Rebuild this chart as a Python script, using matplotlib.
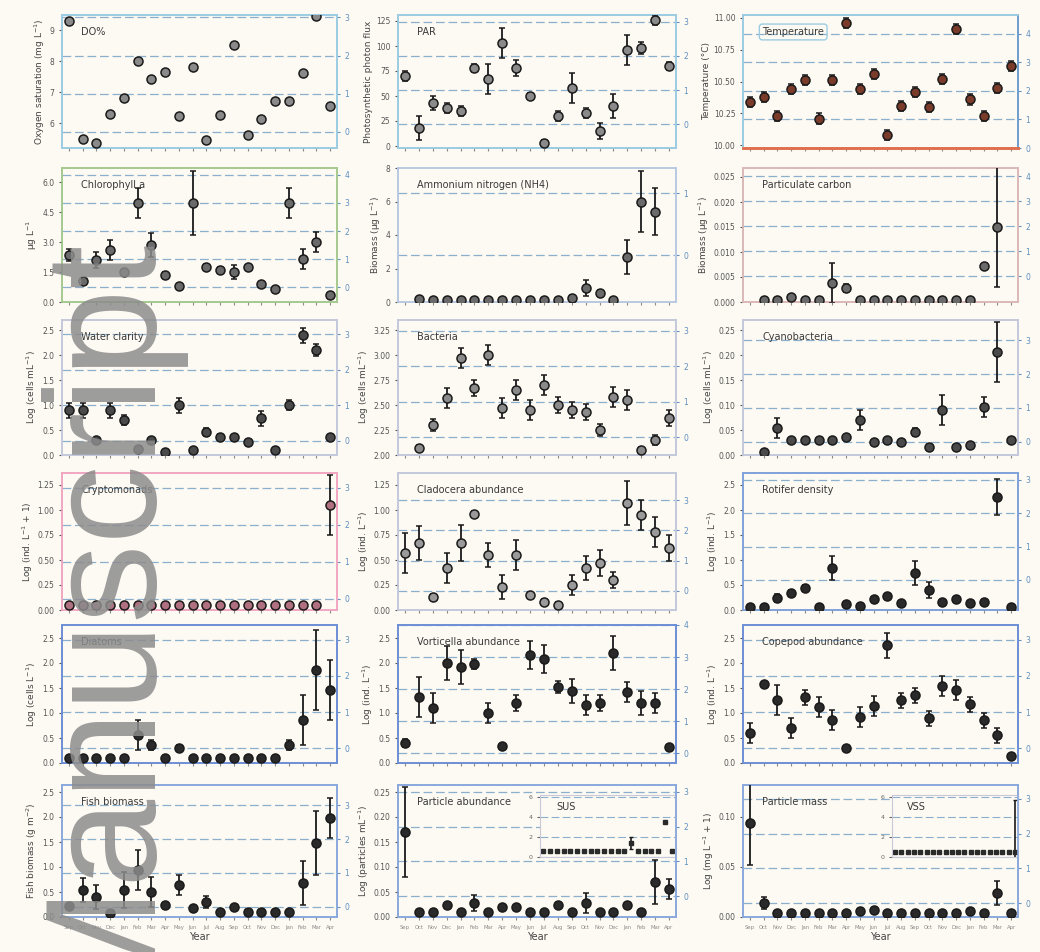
import numpy as np
import matplotlib
matplotlib.use('Agg')
import matplotlib.pyplot as plt

nan = np.nan
W, H = 1040, 952

# sampling occasions (x axis)
months = ['Sep', 'Oct', 'Nov', 'Dec', 'Jan', 'Feb', 'Mar', 'Apr', 'May', 'Jun',
          'Jul', 'Aug', 'Sep', 'Oct', 'Nov', 'Dec', 'Jan', 'Feb', 'Mar', 'Apr']
x = np.arange(20)

# --- row 1
do_sat = [9.29, 5.48, 5.35, 6.29, 6.81, 8.0, 7.42, 7.65, 6.23, 7.81,
          5.45, 6.26, 8.52, 5.61, 6.13, 6.71, 6.71, 7.61, 9.48, 6.55]
do_err = [0.08] * 20
par = [70, 18, 43, 38, 35, 78, 67, 103, 78, 50, 3, 30, 58, 33, 15, 40, 96, 98, 126, 80]
par_err = [5, 12, 7, 5, 5, 4, 15, 15, 8, 3, 3, 5, 15, 5, 8, 12, 15, 6, 5, 4]
temp = [10.34, 10.38, 10.23, 10.44, 10.51, 10.21, 10.51, 10.96, 10.44, 10.56,
        10.08, 10.31, 10.42, 10.30, 10.52, 10.91, 10.36, 10.23, 10.45, 10.62]
temp_err = [0.04] * 20

# --- row 2
chl = [2.35, 1.05, 2.1, 2.6, 1.5, 4.95, 2.85, 1.35, 0.8, 4.95,
       1.75, 1.6, 1.5, 1.75, 0.9, 0.65, 4.95, 2.15, 3.0, 0.35]
chl_err = [0.3, 0.1, 0.4, 0.5, 0.15, 0.75, 0.6, 0.15, 0.1, 1.6,
           0.15, 0.15, 0.35, 0.1, 0.1, 0.1, 0.75, 0.5, 0.5, 0.1]
amm = [nan, 0.18, 0.12, 0.12, 0.12, 0.12, 0.12, 0.12, 0.12, 0.12,
       0.12, 0.12, 0.24, 0.84, 0.54, 0.12, 2.7, 6.0, 5.4, nan]
amm_err = [0, 0.05, 0.05, 0.05, 0.05, 0.05, 0.05, 0.05, 0.05, 0.05,
           0.05, 0.05, 0.15, 0.5, 0.2, 0.05, 1.0, 1.8, 1.4, 0]
poc = [nan, 0.0004, 0.0004, 0.001, 0.0004, 0.0004, 0.0038, 0.0028, 0.0004, 0.0004,
       0.0004, 0.0004, 0.0004, 0.0004, 0.0004, 0.0004, 0.0004, 0.0072, 0.015, nan]
poc_err = [0, 0.0002, 0.0002, 0.0002, 0.0002, 0.0002, 0.004, 0.0008, 0.0002, 0.0002,
           0.0002, 0.0002, 0.0002, 0.0002, 0.0002, 0.0002, 0.0002, 0.0003, 0.012, 0]

# --- row 3
clar = [0.9, 0.9, 0.3, 0.9, 0.7, 0.12, 0.3, 0.06, 1.0, 0.1,
        0.46, 0.36, 0.36, 0.26, 0.74, 0.1, 1.0, 2.4, 2.1, 0.36]
clar_err = [0.15, 0.15, 0.05, 0.15, 0.1, 0.03, 0.05, 0.03, 0.15, 0.03,
            0.08, 0.06, 0.05, 0.05, 0.15, 0.03, 0.1, 0.15, 0.12, 0.05]
bact = [nan, 2.07, 2.3, 2.57, 2.97, 2.67, 3.0, 2.47, 2.65, 2.45,
        2.7, 2.5, 2.45, 2.43, 2.25, 2.58, 2.55, 2.05, 2.15, 2.37]
bact_err = [0, 0.03, 0.06, 0.1, 0.1, 0.08, 0.1, 0.1, 0.1, 0.1,
            0.1, 0.08, 0.08, 0.08, 0.06, 0.1, 0.1, 0.03, 0.05, 0.08]
cyan = [nan, 0.006, 0.054, 0.03, 0.03, 0.03, 0.03, 0.036, 0.07, 0.026,
        0.03, 0.026, 0.046, 0.016, 0.09, 0.016, 0.02, 0.096, 0.206, 0.03]
cyan_err = [0, 0.005, 0.02, 0.005, 0.005, 0.005, 0.005, 0.005, 0.02, 0.005,
            0.005, 0.005, 0.008, 0.005, 0.03, 0.005, 0.005, 0.02, 0.06, 0.005]

# --- row 4
crypt = [0.05] * 19 + [1.05]
crypt_err = [0.0] * 19 + [0.3]
clad = [0.57, 0.67, 0.13, 0.42, 0.67, 0.96, 0.55, 0.23, 0.55, 0.15,
        0.08, 0.05, 0.25, 0.42, 0.47, 0.30, 1.07, 0.95, 0.78, 0.62]
clad_err = [0.2, 0.17, 0.03, 0.15, 0.18, 0.03, 0.12, 0.12, 0.15, 0.03,
            0.03, 0.03, 0.1, 0.12, 0.13, 0.08, 0.22, 0.15, 0.15, 0.13]
rotif = [0.06, 0.06, 0.24, 0.34, 0.44, 0.06, 0.84, 0.12, 0.08, 0.22,
         0.28, 0.14, 0.74, 0.4, 0.16, 0.22, 0.14, 0.16, 2.26, 0.06]
rotif_err = [0.03, 0.03, 0.08, 0.06, 0.06, 0.03, 0.24, 0.03, 0.03, 0.03,
             0.03, 0.03, 0.24, 0.16, 0.03, 0.03, 0.03, 0.03, 0.36, 0.03]

# --- row 5
diat = [0.1, 0.1, 0.1, 0.1, 0.1, 0.56, 0.36, 0.1, 0.3, 0.1,
        0.1, 0.1, 0.1, 0.1, 0.1, 0.1, 0.36, 0.86, 1.86, 1.46]
diat_err = [0.02, 0.02, 0.02, 0.02, 0.02, 0.3, 0.1, 0.02, 0.06, 0.02,
            0.02, 0.02, 0.02, 0.02, 0.02, 0.02, 0.1, 0.5, 0.8, 0.6]
vort = [0.4, 1.32, 1.1, 2.0, 1.92, 1.98, 1.0, 0.34, 1.2, 2.16,
        2.08, 1.52, 1.44, 1.16, 1.2, 2.2, 1.42, 1.2, 1.2, 0.32]
vort_err = [0.08, 0.4, 0.3, 0.34, 0.34, 0.1, 0.2, 0.05, 0.16, 0.28,
            0.28, 0.12, 0.24, 0.2, 0.16, 0.34, 0.2, 0.24, 0.2, 0.05]
cope = [0.6, 1.58, 1.26, 0.7, 1.32, 1.12, 0.86, 0.3, 0.92, 1.14,
        2.36, 1.26, 1.36, 0.9, 1.54, 1.46, 1.18, 0.86, 0.56, 0.14]
cope_err = [0.2, 0.05, 0.3, 0.2, 0.15, 0.2, 0.2, 0.05, 0.2, 0.2,
            0.25, 0.15, 0.15, 0.15, 0.2, 0.2, 0.15, 0.15, 0.15, 0.05]

# --- row 6
fish = [0.22, 0.54, 0.4, 0.08, 0.54, 0.94, 0.5, 0.24, 0.64, 0.18,
        0.3, 0.1, 0.2, 0.1, 0.1, 0.1, 0.1, 0.68, 1.48, 1.98]
fish_err = [0.03, 0.24, 0.24, 0.03, 0.36, 0.4, 0.3, 0.03, 0.2, 0.03,
            0.12, 0.03, 0.03, 0.03, 0.03, 0.03, 0.03, 0.44, 0.64, 0.4]
part = [0.17, 0.01, 0.01, 0.024, 0.01, 0.028, 0.01, 0.02, 0.02, 0.01,
        0.01, 0.024, 0.01, 0.028, 0.01, 0.01, 0.024, 0.01, 0.07, 0.056]
part_err = [0.09, 0.002, 0.002, 0.004, 0.002, 0.016, 0.002, 0.004, 0.004, 0.002,
            0.002, 0.004, 0.002, 0.02, 0.002, 0.002, 0.004, 0.002, 0.044, 0.02]
mass = [0.094, 0.014, 0.004, 0.004, 0.004, 0.004, 0.004, 0.004, 0.006, 0.007,
        0.004, 0.004, 0.004, 0.004, 0.004, 0.004, 0.006, 0.004, 0.024, 0.004]
mass_err = [0.042, 0.006, 0.001, 0.001, 0.001, 0.001, 0.001, 0.001, 0.001, 0.001,
            0.001, 0.001, 0.001, 0.001, 0.001, 0.001, 0.001, 0.001, 0.012, 0.001]

# inset series
sus = [0.6] * 13 + [1.4] + [0.6] * 4 + [3.5, 0.6]
sus_err = [0.1] * 13 + [0.6] + [0.1] * 4 + [0.0, 0.1]
vss = [0.5] * 20
vss_err = [0.05] * 19 + [5.2]

# title, y label, values, errors, ylim, left ticks, spine colour, marker face
panels = [
    ('DO%', 'Oxygen saturation (mg L$^{-1}$)', do_sat, do_err, (5.2, 9.5), [6, 7, 8, 9], '#9ccbe3', '#8a8a8a'),
    ('PAR', 'Photosynthetic photon flux', par, par_err, (-2, 131), [0, 25, 50, 75, 100, 125], '#9ccbe3', '#8a8a8a'),
    ('Temperature', 'Temperature (°C)', temp, temp_err, (9.98, 11.02), [10.0, 10.25, 10.5, 10.75, 11.0], '#9ccbe3', '#7a3b2a'),
    ('Chlorophyll a', 'μg L$^{-1}$', chl, chl_err, (0, 6.7), [0, 1.5, 3, 4.5, 6], '#a5c98e', '#6a6a6a'),
    ('Ammonium nitrogen (NH4)', 'Biomass (μg L$^{-1}$)', amm, amm_err, (0, 8), [0, 2, 4, 6, 8], '#b9c9e2', '#6a6a6a'),
    ('Particulate carbon', 'Biomass (μg L$^{-1}$)', poc, poc_err, (0, 0.0268), [0, 0.005, 0.01, 0.015, 0.02, 0.025], '#dcb8b8', '#6a6a6a'),
    ('Water clarity', 'Log (cells mL$^{-1}$)', clar, clar_err, (0, 2.7), [0, 0.5, 1, 1.5, 2, 2.5], '#c4c8dc', '#4a4a4a'),
    ('Bacteria', 'Log (cells mL$^{-1}$)', bact, bact_err, (2.0, 3.35), [2.0, 2.25, 2.5, 2.75, 3.0, 3.25], '#c4c8dc', '#8a8a8a'),
    ('Cyanobacteria', 'Log (cells mL$^{-1}$)', cyan, cyan_err, (0, 0.27), [0, 0.05, 0.1, 0.15, 0.2, 0.25], '#c4c8dc', '#4a4a4a'),
    ('Cryptomonads', 'Log (ind. L$^{-1}$ + 1)', crypt, crypt_err, (0, 1.37), [0, 0.25, 0.5, 0.75, 1.0, 1.25], '#f0a6c2', '#b07080'),
    ('Cladocera abundance', 'Log (ind. L$^{-1}$)', clad, clad_err, (0, 1.37), [0, 0.25, 0.5, 0.75, 1.0, 1.25], '#c4c8dc', '#9a9a9a'),
    ('Rotifer density', 'Log (ind. L$^{-1}$)', rotif, rotif_err, (0, 2.74), [0, 0.5, 1, 1.5, 2, 2.5], '#7fa2da', '#2a2a2a'),
    ('Diatoms', 'Log (cells L$^{-1}$)', diat, diat_err, (0, 2.76), [0, 0.5, 1, 1.5, 2, 2.5], '#6d8fd6', '#2a2a2a'),
    ('Vorticella abundance', 'Log (ind. L$^{-1}$)', vort, vort_err, (0, 2.76), [0, 0.5, 1, 1.5, 2, 2.5], '#6d8fd6', '#2a2a2a'),
    ('Copepod abundance', 'Log (ind. L$^{-1}$)', cope, cope_err, (0, 2.76), [0, 0.5, 1, 1.5, 2, 2.5], '#6d8fd6', '#2a2a2a'),
    ('Fish biomass', 'Fish biomass (g m$^{-2}$)', fish, fish_err, (0, 2.64), [0, 0.5, 1, 1.5, 2, 2.5], '#8aa8dc', '#2a2a2a'),
    ('Particle abundance', 'Log (particles mL$^{-1}$)', part, part_err, (0, 0.264), [0, 0.05, 0.1, 0.15, 0.2, 0.25], '#8aa8dc', '#2a2a2a'),
    ('Particle mass', 'Log (mg L$^{-1}$ + 1)', mass, mass_err, (0, 0.132), [0, 0.05, 0.1], '#8aa8dc', '#2a2a2a'),
]

# right-hand axis range for each panel (its grid gives the dashed guide lines)
twin_lims = [(-0.42, 3.06), (-0.7, 3.2), (0, 4.65), (-0.52, 4.24), (-0.76, 1.41), (-1.02, 4.33),
             (-0.4, 3.4), (-0.5, 3.3), (-0.4, 3.6), (-0.3, 3.4), (-0.64, 3.9), (-0.9, 3.2),
             (-0.4, 3.4), (-0.3, 4.0), (-0.4, 3.4), (-0.3, 3.6), (-0.6, 3.2), (-0.4, 3.4)]

cols = [(62, 337), (398, 676), (743, 1018)]
rows = [(15, 148), (168, 302), (320, 455), (473, 610), (625, 763), (785, 917)]
bg = '#fdfaf3'


def box(x0, x1, y0, y1):
    return [x0 / W, 1 - y1 / H, (x1 - x0) / W, (y1 - y0) / H]


fig = plt.figure(figsize=(10.4, 9.52), dpi=100, facecolor=bg)
plt.rcParams['font.family'] = ['DejaVu Sans']

for i, (title, ylab, vals, errs, ylim, yt, sc, mfc) in enumerate(panels):
    r, c = divmod(i, 3)
    ax = fig.add_axes(box(*cols[c], *rows[r]))
    tw = ax.twinx()
    ax.set_zorder(tw.get_zorder() + 1)
    ax.patch.set_visible(False)
    lo, hi = twin_lims[i]
    tw.set_ylim(lo, hi)
    tw.set_yticks(range(max(0, int(np.ceil(lo))), int(np.floor(hi)) + 1))
    tw.grid(axis='y', color='#6f9cc4', ls=(0, (7, 3)), lw=0.9, alpha=0.8)
    tw.tick_params(labelsize=5.5, colors='#5f8fbf', length=2)

    ax.errorbar(x, vals, yerr=errs, fmt='o', ms=6.5, mfc=mfc, mec='#1a1a1a', mew=1.1,
                ecolor='#1a1a1a', elinewidth=1.3, capsize=2.5, capthick=1.2, zorder=3)
    ax.set_xlim(-0.5, 19.5)
    ax.set_ylim(*ylim)
    ax.set_yticks(yt)
    ax.tick_params(axis='y', labelsize=5.5, colors='#555555', length=2)
    ax.set_xticks(x)
    if r == 5:
        ax.set_xticklabels(months, fontsize=3.8, color='#555555')
        ax.set_xlabel('Year', fontsize=7, color='#444444', labelpad=2)
    else:
        ax.set_xticklabels([])
    ax.tick_params(axis='x', length=2, colors='#8a8a8a')
    ax.set_ylabel(ylab, fontsize=6.5, color='#444444', labelpad=2)
    for a in (ax, tw):
        for s in a.spines.values():
            s.set_color(sc)
            s.set_linewidth(1.2)
    if r == 0 and c == 2:
        # temperature panel: red baseline
        for a in (ax, tw):
            a.spines['bottom'].set_color('#e07050')
            a.spines['bottom'].set_linewidth(2)
            a.spines['right'].set_color('#6f9cd0')
    tbox = dict(boxstyle='round,pad=0.3', fc='none', ec='#9ccbe3') if c == 2 and r == 0 else None
    ax.text(0.07, 0.91, title, transform=ax.transAxes, fontsize=7, color='#3a3a3a',
            va='top', bbox=tbox)

# insets in the bottom-row particle panels
for (x0, x1), lab, vals, errs in [((540, 675), 'SUS', sus, sus_err),
                                  ((892, 1018), 'VSS', vss, vss_err)]:
    ins = fig.add_axes(box(x0, x1, 795, 857), facecolor=bg)
    ins.errorbar(x, vals, yerr=errs, fmt='s', ms=2.5, mfc='#2a2a2a', mec='#2a2a2a',
                 ecolor='#1a1a1a', elinewidth=1.2, capsize=1.5)
    ins.set_xlim(-0.5, 19.5)
    ins.set_ylim(0, 6.2)
    ins.set_yticks([0, 2, 4, 6])
    ins.set_xticks([])
    ins.grid(axis='y', color='#6f9cc4', ls=(0, (7, 3)), lw=0.8, alpha=0.8)
    ins.tick_params(labelsize=4.5, colors='#666666', length=2)
    for s in ins.spines.values():
        s.set_color('#c8c8d8')
    ins.text(0.12, 0.88, lab, transform=ins.transAxes, fontsize=7, color='#3a3a3a', va='top')

# watermark
fig.text(143 / W, 1 - 232 / H, 'Manuscript', rotation=90, rotation_mode='anchor',
         ha='right', va='baseline', fontsize=114, family='Liberation Sans',
         color='#8c8c8c', alpha=0.85, zorder=10)

fig.savefig('out.png', dpi=100, facecolor=bg)
